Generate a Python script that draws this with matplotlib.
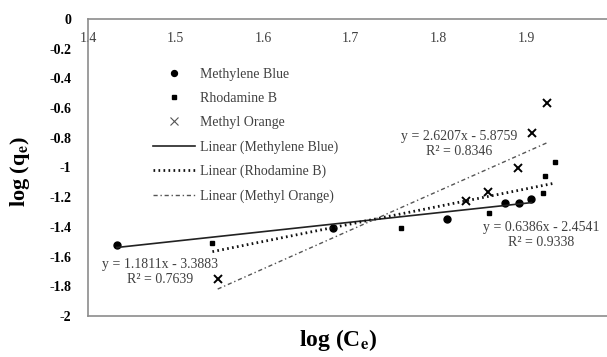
import numpy as np
import matplotlib
matplotlib.use("Agg")
import matplotlib.pyplot as plt

plt.rcParams['font.family'] = ['Liberation Serif', 'DejaVu Serif']
plt.rcParams['mathtext.fontset'] = 'stix'

# Data
mb_x = [1.433, 1.680, 1.810, 1.876, 1.892, 1.906]
mb_y = [-1.522, -1.407, -1.347, -1.239, -1.239, -1.212]
rb_x = [1.542, 1.757, 1.858, 1.919, 1.922, 1.933]
rb_y = [-1.508, -1.407, -1.306, -1.172, -1.057, -0.963]
mo_x = [1.548, 1.832, 1.856, 1.891, 1.907, 1.924]
mo_y = [-1.751, -1.226, -1.165, -1.004, -0.768, -0.566]

# trendline coefficients (slope, intercept) shown on the chart
mb_fit = (0.6386, -2.4541)
rb_fit = (1.1811, -3.3883)
mo_fit = (2.6207, -5.8759)

x_ticks = [1.4, 1.5, 1.6, 1.7, 1.8, 1.9, 2.0]
x_tick_labels = ['1.4', '1.5', '1.6', '1.7', '1.8', '1.9', '2']
y_ticks = [0, -0.2, -0.4, -0.6, -0.8, -1, -1.2, -1.4, -1.6, -1.8, -2]
y_tick_labels = ['0', '-0.2', '-0.4', '-0.6', '-0.8', '-1', '-1.2', '-1.4',
                 '-1.6', '-1.8', '-2']

fig = plt.figure(figsize=(6.07, 3.57), dpi=100)
ax = fig.add_axes([0.145, 0.115, 1.011 - 0.145, 0.947 - 0.115])

def trend(xs, fit):
    xx = np.array([min(xs), max(xs)])
    return xx, fit[0] * xx + fit[1]

ax.plot(mb_x, mb_y, 'o', color='black', ms=5, label='Methylene Blue')
ax.plot(rb_x, rb_y, 's', color='black', ms=3.2, label='Rhodamine B')
ax.plot(mo_x, mo_y, 'x', color='black', ms=6, mew=1.4, label='Methyl Orange')

xx, yy = trend(mb_x, mb_fit)
ax.plot(xx, yy, '-', color='#222222', lw=1.2, label='Linear (Methylene Blue)')
xx, yy = trend(rb_x, rb_fit)
ax.plot(xx, yy, color='#111111', lw=2, linestyle=(0, (0.6, 1.2)),
        label='Linear (Rhodamine B)')
xx, yy = trend(mo_x, mo_fit)
ax.plot(xx, yy, color='#555555', lw=1, linestyle=(0, (3, 2, 1, 2)),
        label='Linear (Methyl Orange)')

ax.set_xlim(1.4, 2.0)
ax.set_ylim(-2, 0)
ax.set_xticks(x_ticks)
ax.set_xticklabels(x_tick_labels)
ax.set_yticks(y_ticks)
ax.set_yticklabels(y_tick_labels, fontweight='bold')
ax.xaxis.tick_top()
ax.tick_params(axis='x', length=0, pad=-19, labelsize=10, colors='#404040')
ax.tick_params(axis='y', length=0, pad=12, labelsize=10, colors='black')
for s in ax.spines.values():
    s.set_color('#8c8c8c')
    s.set_linewidth(1.2)

leg = ax.legend(loc='upper left', bbox_to_anchor=(153 / 607, 1 - 68 / 357),
                bbox_transform=fig.transFigure, frameon=False, fontsize=10,
                handlelength=3.0, handletextpad=0.35, labelspacing=0.8,
                borderpad=0, borderaxespad=0, markerscale=0.85)
for t in leg.get_texts():
    t.set_color('#404040')
leg.legend_handles[2].set_markeredgewidth(0.8)
leg.legend_handles[2].set_color('#555555')

eq_kw = dict(ha='center', va='center', fontsize=10, color='#404040',
             linespacing=1.2, transform=fig.transFigure)
fig.text(160 / 607, 1 - 272 / 357, 'y = 1.1811x - 3.3883\nR² = 0.7639', **eq_kw)
fig.text(459 / 607, 1 - 144 / 357, 'y = 2.6207x - 5.8759\nR² = 0.8346', **eq_kw)
fig.text(541 / 607, 1 - 235 / 357, 'y = 0.6386x - 2.4541\nR² = 0.9338', **eq_kw)

fig.text(338 / 607, 1 - 340 / 357, r'log (C$_\mathbf{e}$)', ha='center',
         va='center', fontsize=17, fontweight='bold')
fig.text(20 / 607, 1 - 172 / 357, r'log (q$_\mathbf{e}$)', ha='center',
         va='center', fontsize=16, fontweight='bold', rotation=90)

fig.savefig('out.png', dpi=100)
